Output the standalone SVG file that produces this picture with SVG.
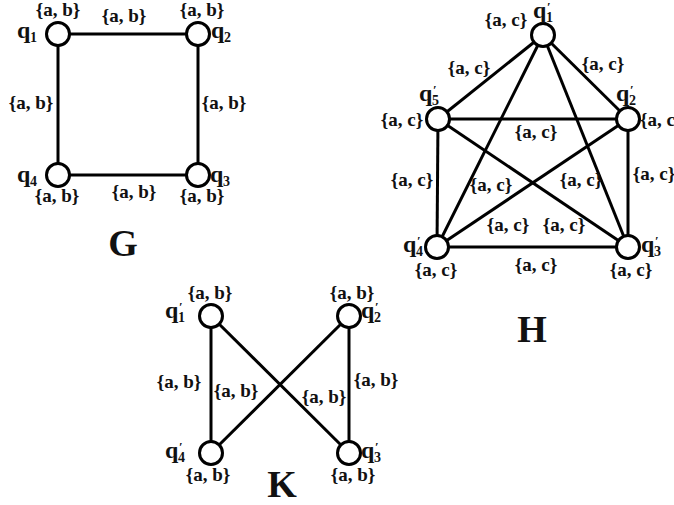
<svg xmlns="http://www.w3.org/2000/svg" width="674" height="505" viewBox="0 0 674 505">
<style>
.t{font-family:"Liberation Serif",serif;font-weight:bold;font-size:19px;text-anchor:middle;fill:#111}
.q{font-family:"Liberation Serif",serif;font-weight:bold;font-size:24px;fill:#111}
.s{font-family:"Liberation Serif",serif;font-weight:bold;font-size:14px;fill:#111}
.p{font-family:"Liberation Serif",serif;font-weight:bold;font-size:13px;fill:#111}
.big{font-family:"Liberation Serif",serif;font-weight:bold;font-size:38px;text-anchor:middle;fill:#111}
.e{stroke:#000;stroke-width:3;fill:none}
.n{fill:#fff;stroke:#000;stroke-width:3}
</style>
<rect width="674" height="505" fill="#fff"/>
<g id="connectors">
<line class="e" x1="58" y1="34" x2="198" y2="34"/>
<line class="e" x1="58" y1="34" x2="58" y2="175"/>
<line class="e" x1="198" y1="34" x2="198" y2="175"/>
<line class="e" x1="58" y1="175" x2="198" y2="175"/>
<line class="e" x1="543" y1="35" x2="438" y2="119"/>
<line class="e" x1="543" y1="35" x2="628" y2="119"/>
<line class="e" x1="543" y1="35" x2="437" y2="247"/>
<line class="e" x1="543" y1="35" x2="628" y2="247"/>
<line class="e" x1="438" y1="119" x2="628" y2="119"/>
<line class="e" x1="438" y1="119" x2="628" y2="247"/>
<line class="e" x1="438" y1="119" x2="437" y2="247"/>
<line class="e" x1="628" y1="119" x2="437" y2="247"/>
<line class="e" x1="628" y1="119" x2="628" y2="247"/>
<line class="e" x1="437" y1="247" x2="628" y2="247"/>
<line class="e" x1="211" y1="316" x2="211" y2="453"/>
<line class="e" x1="349" y1="316" x2="349" y2="453"/>
<line class="e" x1="211" y1="316" x2="349" y2="453"/>
<line class="e" x1="349" y1="316" x2="211" y2="453"/>
</g>
<g id="edge-labels">
<text class="t" x="124" y="22">{a, b}</text>
<text class="t" x="31" y="109">{a, b}</text>
<text class="t" x="224" y="109">{a, b}</text>
<text class="t" x="134" y="198">{a, b}</text>
<text class="t" x="469" y="74">{a, c}</text>
<text class="t" x="603" y="70">{a, c}</text>
<text class="t" x="536" y="138">{a, c}</text>
<text class="t" x="412" y="186">{a, c}</text>
<text class="t" x="491" y="191">{a, c}</text>
<text class="t" x="581" y="186">{a, c}</text>
<text class="t" x="654" y="180">{a, c}</text>
<text class="t" x="508" y="231">{a, c}</text>
<text class="t" x="564" y="231">{a, c}</text>
<text class="t" x="536" y="271">{a, c}</text>
<text class="t" x="179" y="388">{a, b}</text>
<text class="t" x="236" y="397">{a, b}</text>
<text class="t" x="324" y="403">{a, b}</text>
<text class="t" x="376" y="386">{a, b}</text>
</g>
<g id="G-q1"><circle class="n" cx="58" cy="34" r="11.5"/><text class="q" x="17" y="38">q</text><text class="s" x="30" y="42">1</text><text class="t" x="58" y="16">{a, b}</text></g>
<g id="G-q2"><circle class="n" cx="198" cy="34" r="11.5"/><text class="q" x="211" y="38">q</text><text class="s" x="224" y="42">2</text><text class="t" x="202" y="16">{a, b}</text></g>
<g id="G-q3"><circle class="n" cx="198" cy="175" r="11.5"/><text class="q" x="210" y="182">q</text><text class="s" x="223" y="186">3</text><text class="t" x="202" y="202">{a, b}</text></g>
<g id="G-q4"><circle class="n" cx="58" cy="175" r="11.5"/><text class="q" x="17" y="182">q</text><text class="s" x="30" y="186">4</text><text class="t" x="57" y="202">{a, b}</text></g>
<g id="H-q1"><circle class="n" cx="543" cy="35" r="11.5"/><text class="q" x="533" y="18">q</text><text class="p" x="547" y="11">′</text><text class="s" x="546" y="22">1</text><text class="t" x="506" y="26">{a, c}</text></g>
<g id="H-q2"><circle class="n" cx="628" cy="119" r="11.5"/><text class="q" x="616" y="101">q</text><text class="p" x="630" y="94">′</text><text class="s" x="629" y="105">2</text><text class="t" x="640" y="126" style="text-anchor:start">{a, c}</text></g>
<g id="H-q3"><circle class="n" cx="628" cy="247" r="11.5"/><text class="q" x="641" y="252">q</text><text class="p" x="655" y="245">′</text><text class="s" x="654" y="256">3</text><text class="t" x="631" y="276">{a, c}</text></g>
<g id="H-q4"><circle class="n" cx="437" cy="247" r="11.5"/><text class="q" x="403" y="252">q</text><text class="p" x="417" y="245">′</text><text class="s" x="416" y="256">4</text><text class="t" x="436" y="276">{a, c}</text></g>
<g id="H-q5"><circle class="n" cx="438" cy="119" r="11.5"/><text class="q" x="419" y="101">q</text><text class="p" x="433" y="94">′</text><text class="s" x="432" y="105">5</text><text class="t" x="402" y="126">{a, c}</text></g>
<g id="K-q1"><circle class="n" cx="211" cy="316" r="11.5"/><text class="q" x="165" y="318">q</text><text class="p" x="179" y="311">′</text><text class="s" x="178" y="322">1</text><text class="t" x="210" y="299">{a, b}</text></g>
<g id="K-q2"><circle class="n" cx="349" cy="316" r="11.5"/><text class="q" x="361" y="318">q</text><text class="p" x="375" y="311">′</text><text class="s" x="374" y="322">2</text><text class="t" x="352" y="299">{a, b}</text></g>
<g id="K-q3"><circle class="n" cx="349" cy="453" r="11.5"/><text class="q" x="361" y="458">q</text><text class="p" x="375" y="451">′</text><text class="s" x="374" y="462">3</text><text class="t" x="353" y="481">{a, b}</text></g>
<g id="K-q4"><circle class="n" cx="211" cy="453" r="11.5"/><text class="q" x="165" y="458">q</text><text class="p" x="179" y="451">′</text><text class="s" x="178" y="462">4</text><text class="t" x="208" y="481">{a, b}</text></g>
<g id="titles">
<text class="big" x="123" y="256">G</text>
<text class="big" x="532" y="342">H</text>
<text class="big" x="282" y="497">K</text>
</g>
</svg>
